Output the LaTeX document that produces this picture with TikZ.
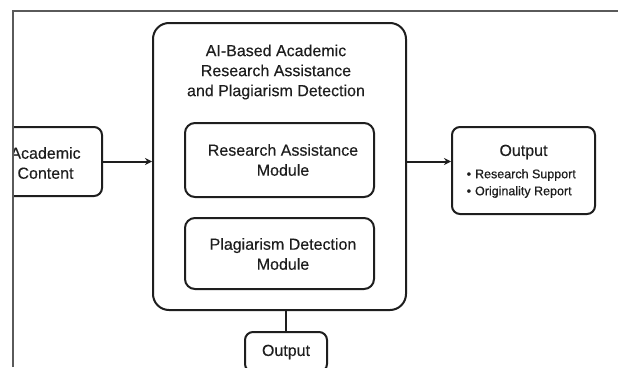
\documentclass[tikz,border=0pt]{standalone}
\usepackage{fontspec}
\setmainfont{Liberation Sans}
\usetikzlibrary{arrows.meta}
\definecolor{ink}{HTML}{1E1E1E}
\definecolor{framegray}{HTML}{5A5A5A}
\tikzset{
  box/.style={draw=ink, line width=2pt, fill=white, inner sep=0pt},
  bigbox/.style={box, rounded corners=16pt},
  modbox/.style={box, rounded corners=10pt},
  smallbox/.style={box, rounded corners=8pt},
  label16/.style={text=ink, inner sep=0pt, align=center,
    font=\fontsize{16}{20}\selectfont\addfontfeature{FakeBold=0.25}},
  label12/.style={text=ink, inner sep=0pt, align=left,
    font=\fontsize{12.5}{17}\selectfont\addfontfeature{FakeBold=0.6}},
  arr/.style={draw=ink, line width=2pt, -{Stealth[length=7pt,width=7pt]}},
  link/.style={draw=ink, line width=2pt},
  frameline/.style={draw=framegray, line width=1.3pt}
}
\begin{document}
\begin{tikzpicture}[x=1pt, y=-1pt]
  \useasboundingbox (0,0) rectangle (618,367);
  \fill[white] (0,0) rectangle (618,367);
  \begin{scope}
    \clip (13,11) rectangle (618,367);
    % input on the left, partly cut by the frame
    \node[smallbox, minimum width=113, minimum height=69] (acad) at (45.5,161.5) {};
    \node[label16] (acadt) at (45.5,163) {Academic\\Content};
    % main system block with its two modules
    \node[bigbox, minimum width=253, minimum height=287] (main) at (279.5,166.5) {};
    \node[label16] (title) at (276,72) {AI-Based Academic\\Research Assistance\\and Plagiarism Detection};
    \node[modbox, minimum width=189, minimum height=74] (ra) at (279.5,160) {};
    \node[label16] (rat) at (283,160) {Research Assistance\\Module};
    \node[modbox, minimum width=189, minimum height=71] (pd) at (279.5,253.5) {};
    \node[label16] (pdt) at (283,254) {Plagiarism Detection\\Module};
    % outputs
    \node[smallbox, minimum width=143, minimum height=87] (out) at (523.5,170.5) {};
    \node[label16] (outt) at (523.5,152) {Output};
    \node[label12, anchor=west] (outl) at (466.5,183.5) {•\hspace{4pt}Research Support\\•\hspace{4pt}Originality Report};
    \node[smallbox, minimum width=82, minimum height=40] (bout) at (286,352) {};
    \node[label16] (boutt) at (286,352) {Output};
    % connectors
    \draw[arr] (acad.east) -- (acad.east -| main.west);
    \draw[arr] (main.east |- acad.east) -- (out.west |- acad.east);
    \draw[link] (bout.north) -- (bout.north |- main.south);
  \end{scope}
  % frame edges
  \draw[frameline] (13,367) -- (13,11) -- (618,11);
\end{tikzpicture}
\end{document}
